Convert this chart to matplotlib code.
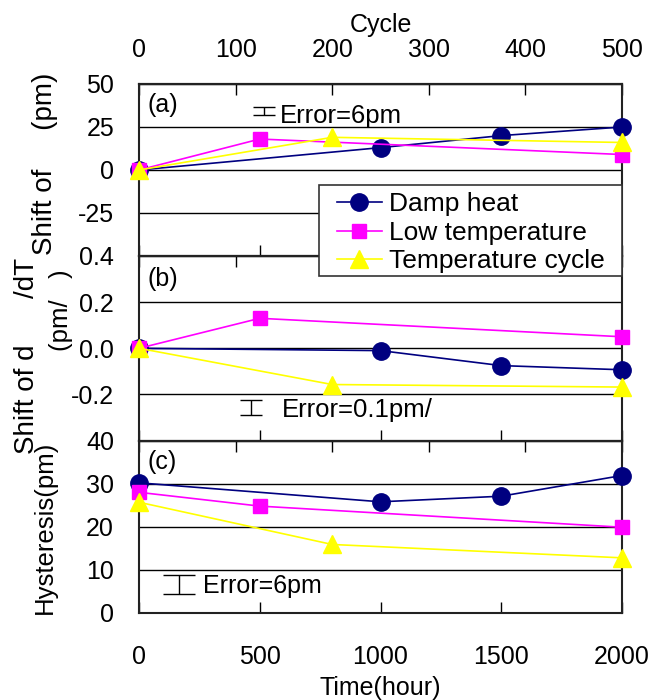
import matplotlib
matplotlib.use('Agg')
import matplotlib.pyplot as plt
from matplotlib.lines import Line2D
from matplotlib.patches import Rectangle

plt.rcParams['font.family'] = ['Liberation Sans', 'DejaVu Sans']
plt.rcParams['font.size'] = 18

# ---------------- data ----------------
series_names = ['Damp heat', 'Low temperature', 'Temperature cycle']
colors = ['#000080', '#FF00FF', '#FFFF00']
markers = ['o', 's', '^']
marker_sizes = [12.5, 9.5, 13]

damp_hours = [0, 1000, 1500, 2000]
low_hours = [0, 500, 2000]
cycle_counts = [0, 200, 500]          # temperature-cycle test, in cycles
hours_per_cycle = 4                    # top axis: 500 cycles <-> 2000 h

# (a) shift of wavelength (pm)
shift_damp = [0, 13, 20, 25]
shift_low = [0, 18, 9]
shift_cycle = [0, 19, 16]

# (b) shift of d(lambda)/dT (pm/degC)
slope_damp = [0.0, -0.01, -0.075, -0.093]
slope_low = [0.0, 0.13, 0.05]
slope_cycle = [0.0, -0.157, -0.168]

# (c) hysteresis (pm)
hyst_damp = [30.2, 25.8, 27.1, 31.9]
hyst_low = [28.0, 24.8, 19.9]
hyst_cycle = [25.7, 15.9, 12.8]

# error-bar annotations
err_x = [518, 462, 165]
err_y = [34.3, -0.257, 6.6]
err_half = [2.6, 0.034, 2.2]
err_caps = [7.9, 8.0, 11.5]
err_texts = ['Error=6pm', 'Error=0.1pm/', 'Error=6pm']

panel_letters = ['(a)', '(b)', '(c)']
ylims = [(-50, 50), (-0.4, 0.4), (0, 40)]
yticks = [[-25, 0, 25, 50], [-0.2, 0.0, 0.2, 0.4], [0, 10, 20, 30, 40]]
ytick_labels = [['-25', '0', '25', '50'], ['-0.2', '0.0', '0.2', '0.4'],
                ['0', '10', '20', '30', '40']]
hour_ticks = [0, 500, 1000, 1500, 2000]
cycle_ticks = [0, 100, 200, 300, 400, 500]

panel_data = [
    (shift_damp, shift_low, shift_cycle),
    (slope_damp, slope_low, slope_cycle),
    (hyst_damp, hyst_low, hyst_cycle),
]

# ---------------- figure ----------------
W, H = 663, 700
fig = plt.figure(figsize=(W / 100, H / 100), dpi=100)

left = 139 / W
width = (622 - 139) / W
bounds_px = [(84, 256), (256, 440.6), (440.6, 613)]

cycle_hours = [c * hours_per_cycle for c in cycle_counts]


def h2c(h):
    return h / hours_per_cycle


def c2h(c):
    return c * hours_per_cycle


axes = []
for i, (top_px, bot_px) in enumerate(bounds_px):
    ax = fig.add_axes([left, 1 - bot_px / H, width, (bot_px - top_px) / H])
    axes.append(ax)
    d, l, c = panel_data[i]
    xs = [damp_hours, low_hours, cycle_hours]
    for j, ys in enumerate((d, l, c)):
        ax.plot(xs[j], ys, color=colors[j], marker=markers[j],
                markersize=marker_sizes[j], markeredgecolor=colors[j],
                lw=1.2, clip_on=False, zorder=3 + j)
    ax.set_xlim(0, 2000)
    ax.set_ylim(*ylims[i])
    ax.set_yticks(yticks[i])
    ax.set_yticklabels(ytick_labels[i])
    ax.set_xticks(hour_ticks)
    ax.tick_params(axis='x', direction='in', length=8, width=1, pad=23,
                   labelbottom=(i == 2))
    ax.tick_params(axis='y', length=0, pad=18)
    ax.grid(axis='y', color='black', lw=1)
    ax.set_axisbelow(True)
    for s in ax.spines.values():
        s.set_linewidth(1.5)
        s.set_color('#222222')

    sec = ax.secondary_xaxis('top', functions=(h2c, c2h))
    sec.set_xticks(cycle_ticks)
    sec.tick_params(direction='in', length=8, width=1, pad=16,
                    labeltop=(i == 0))
    sec.spines['top'].set_linewidth(1.5)
    if i == 0:
        sec.set_xlabel('Cycle', labelpad=4)

    ax.text(0.018, 0.875, panel_letters[i], transform=ax.transAxes,
            ha='left', va='center')

    ax.errorbar([err_x[i]], [err_y[i]], yerr=[err_half[i]], color='black',
                lw=1, capsize=err_caps[i], capthick=1, fmt='none')

axes[2].set_xlabel('Time(hour)', labelpad=5)

axes[0].text(0.2915, 0.7715, err_texts[0], transform=axes[0].transAxes,
             ha='left', va='baseline', fontsize=18.5)
axes[1].text(0.2954, 0.1295, err_texts[1], transform=axes[1].transAxes,
             ha='left', va='baseline', fontsize=18.5)
axes[2].text(0.1331, 0.1143, err_texts[2], transform=axes[2].transAxes,
             ha='left', va='baseline', fontsize=18)

# y labels (missing-glyph gaps kept as blanks)
fig.text(45 / W, 1 - 164 / H, 'Shift of     (pm)', rotation=90,
         ha='center', va='center', fontsize=20)
fig.text(27 / W, 1 - 356 / H, 'Shift of d      /dT', rotation=90,
         ha='center', va='center', fontsize=20)
fig.text(61 / W, 1 - 310 / H, '(pm/   )', rotation=90,
         ha='center', va='center', fontsize=18.5)
fig.text(45 / W, 1 - 527 / H, 'Hysteresis(pm)', rotation=90,
         ha='center', va='center', fontsize=18.5)

# legend box spanning panels (a)-(b)
box = Rectangle((319 / W, 1 - 276 / H), (622 - 319) / W, (276 - 185) / H,
                transform=fig.transFigure, facecolor='white',
                edgecolor='#333333', lw=1.2, zorder=4)
fig.add_artist(box)

handles = [Line2D([], [], color=colors[j], marker=markers[j],
                  markersize=marker_sizes[j], markeredgecolor=colors[j], lw=1.2)
           for j in range(3)]
leg = fig.legend(handles, series_names, loc='upper left',
                 bbox_to_anchor=(337 / W, 1 - 192 / H), borderaxespad=0,
                 frameon=False, fontsize=19, labelspacing=0.18,
                 handlelength=1.7, handletextpad=0.28, borderpad=0)
leg.set_zorder(5)

fig.savefig('out.png', dpi=100)
